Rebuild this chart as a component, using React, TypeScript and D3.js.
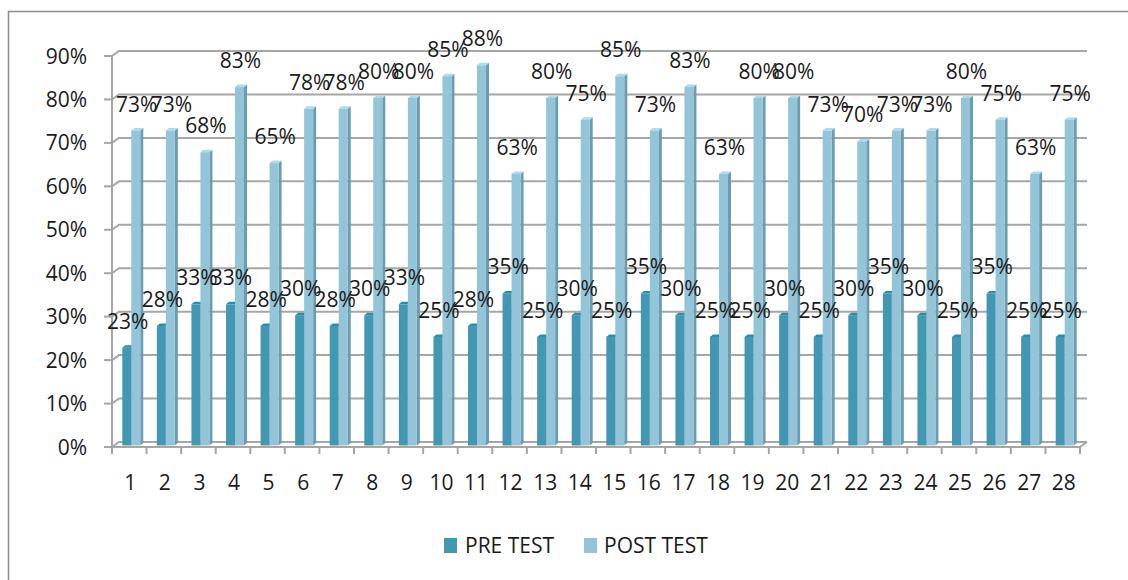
import * as d3 from "d3";

const categories = Array.from({ length: 28 }, (_, i) => String(i + 1));
const preTest = [22.5, 27.5, 32.5, 32.5, 27.5, 30, 27.5, 30, 32.5, 25, 27.5, 35, 25, 30, 25, 35, 30, 25, 25, 30, 25, 30, 35, 30, 25, 35, 25, 25];
const postTest = [72.5, 72.5, 67.5, 82.5, 65, 77.5, 77.5, 80, 80, 85, 87.5, 62.5, 80, 75, 85, 72.5, 82.5, 62.5, 80, 80, 72.5, 70, 72.5, 72.5, 80, 75, 62.5, 75];
const seriesNames = ["PRE TEST", "POST TEST"];
const yTicks = [0, 10, 20, 30, 40, 50, 60, 70, 80, 90];

const W = 1128;
const H = 580;
const FRONT = { left: 112, right: 1080, top: 56, bottom: 447 };
const DEPTH = { dx: 7, dy: -5 };
const FONT = "'Open Sans', 'Liberation Sans', sans-serif";

const COLORS = {
  pre: { front: "#4298b3", side: "#2f7489", top: "#3a88a0" },
  post: { front: "#93c4d7", side: "#6a9db1", top: "#b4d9e6" },
};

const GRID = "#a6a6a6";

export default function App() {
  const x = d3.scaleBand<string>().domain(categories).range([FRONT.left, FRONT.right]).padding(0);
  const y = d3.scaleLinear().domain([0, 90]).range([FRONT.bottom, FRONT.top]);
  const inner = d3.scaleBand<string>().domain(seriesNames).range([0, 18]);

  const barW = inner.bandwidth();
  const side = 3;
  const sideUp = 2.5;
  const off = { dx: 2, dy: -1.5 };

  const bars: JSX.Element[] = [];
  const labels: JSX.Element[] = [];

  categories.forEach((c, i) => {
    const cx = (x(c) ?? 0) + x.bandwidth() / 2 + off.dx;
    const gx = cx - 9;
    [preTest[i], postTest[i]].forEach((v, s) => {
      const col = s === 0 ? COLORS.pre : COLORS.post;
      const x0 = gx + (inner(seriesNames[s]) ?? 0);
      const x1 = x0 + barW;
      const yTop = y(v) + off.dy;
      const yBot = y(0) + off.dy;
      bars.push(
        <g key={`${c}-${s}`}>
          <polygon
            points={`${x1},${yTop} ${x1 + side},${yTop - sideUp} ${x1 + side},${yBot - sideUp} ${x1},${yBot}`}
            fill={col.side}
          />
          <polygon
            points={`${x0},${yTop} ${x0 + side},${yTop - sideUp} ${x1 + side},${yTop - sideUp} ${x1},${yTop}`}
            fill={col.top}
          />
          <rect x={x0} y={yTop} width={barW} height={yBot - yTop} fill={col.front} />
        </g>
      );
      labels.push(
        <text
          key={`l-${c}-${s}`}
          x={x0 + barW / 2 + 1}
          y={yTop - 19}
          textAnchor="middle"
          fontSize={21}
          fill="#1a1a1a"
        >
          {`${Math.round(v)}%`}
        </text>
      );
    });
  });

  const backLeft = FRONT.left + DEPTH.dx;
  const backRight = FRONT.right + DEPTH.dx;

  return (
    <svg
      width={W}
      height={H}
      style={{ position: "fixed", left: 0, top: 0, background: "#fff" }}
      fontFamily={FONT}
    >
      <rect x={8.5} y={11.5} width={1140} height={600} fill="#fff" stroke="#8c8c8c" strokeWidth={1.5} />

      {/* back wall gridlines */}
      {yTicks.map((t) => (
        <g key={`g-${t}`}>
          <line x1={FRONT.left - 8} x2={FRONT.left} y1={y(t)} y2={y(t)} stroke={GRID} strokeWidth={2} />
          <polyline
            points={`${FRONT.left},${y(t)} ${backLeft},${y(t) + DEPTH.dy} ${backRight},${y(t) + DEPTH.dy}`}
            fill="none"
            stroke={GRID}
            strokeWidth={2}
          />
          <text x={87} y={y(t)} dy="0.36em" textAnchor="end" fontSize={21} fill="#1a1a1a">
            {`${t}%`}
          </text>
        </g>
      ))}
      <line x1={FRONT.left} x2={FRONT.left} y1={y(90)} y2={y(0)} stroke={GRID} strokeWidth={2} />

      {/* floor */}
      <polyline
        points={`${FRONT.left},${y(0)} ${FRONT.right},${y(0)} ${backRight},${y(0) + DEPTH.dy}`}
        fill="none"
        stroke={GRID}
        strokeWidth={2}
      />
      {categories.map((c) => (
        <line
          key={`t-${c}`}
          x1={x(c)}
          x2={x(c)}
          y1={y(0)}
          y2={y(0) + 7}
          stroke={GRID}
          strokeWidth={2}
        />
      ))}
      <line x1={FRONT.right} x2={FRONT.right} y1={y(0)} y2={y(0) + 7} stroke={GRID} strokeWidth={2} />

      {bars}

      {categories.map((c) => (
        <text
          key={`c-${c}`}
          x={(x(c) ?? 0) + x.bandwidth() / 2 + 1}
          y={490}
          textAnchor="middle"
          fontSize={21}
          fill="#1a1a1a"
        >
          {c}
        </text>
      ))}

      {labels}

      {/* legend */}
      <rect x={444} y={538} width={13} height={15} fill={COLORS.pre.front} />
      <text x={465} y={553} fontSize={21} fill="#1a1a1a">{seriesNames[0]}</text>
      <rect x={584} y={538} width={13} height={15} fill={COLORS.post.front} />
      <text x={604} y={553} fontSize={21} fill="#1a1a1a">{seriesNames[1]}</text>
    </svg>
  );
}
